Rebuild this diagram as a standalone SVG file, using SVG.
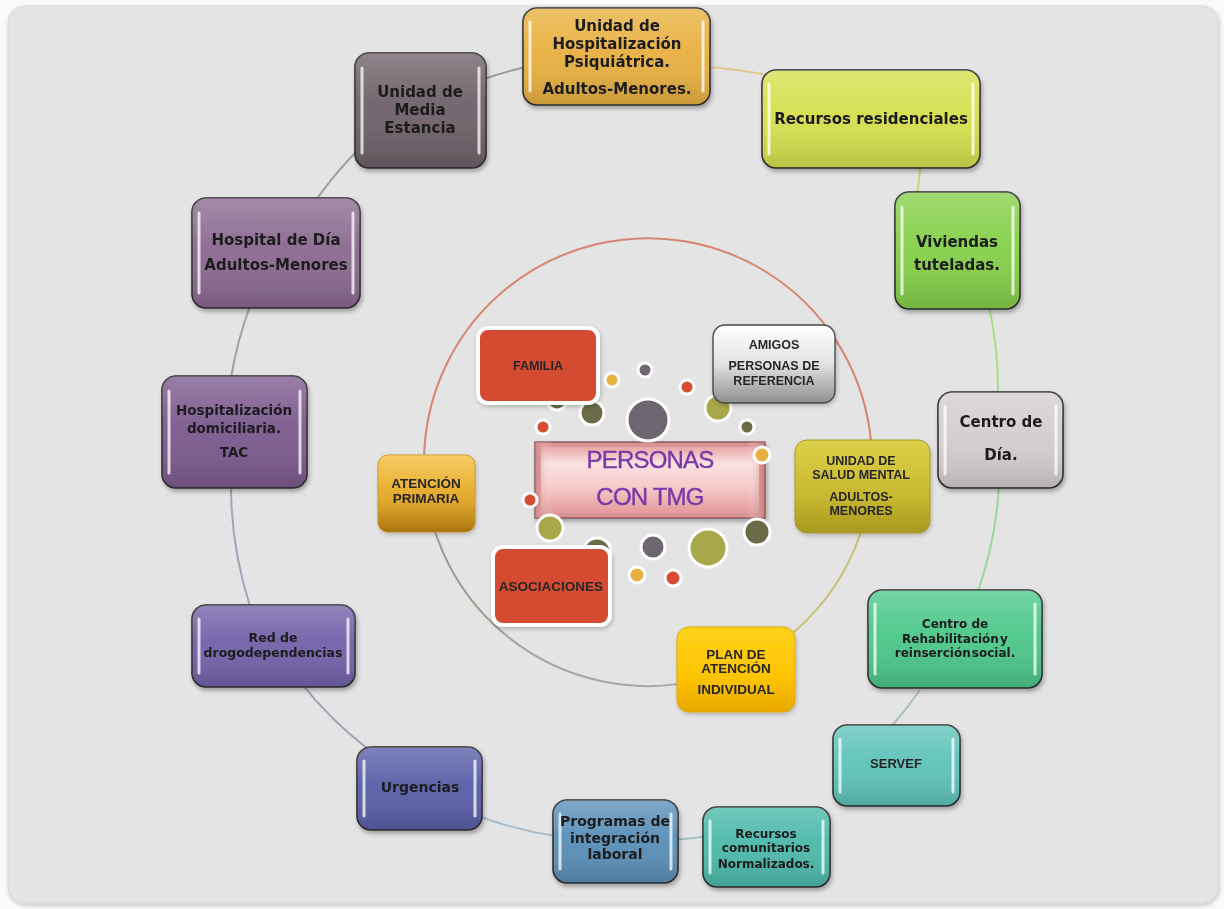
<svg xmlns="http://www.w3.org/2000/svg" width="1224" height="909" viewBox="0 0 1224 909">
  <defs>
    <style>
      .ot { font-family: "DejaVu Sans", "Liberation Sans", sans-serif; font-weight: bold; text-anchor: middle; fill: #1c1c1c; }
      .it { font-family: "Liberation Sans", Arial, sans-serif; font-weight: bold; text-anchor: middle; fill: #262626; }
      .box { stroke: #2e2e2e; stroke-width: 1.6; }
      .hl { stroke: #ffffff; stroke-opacity: 0.75; stroke-width: 3; stroke-linecap: round; }
      .arc { fill: none; stroke-width: 2; }
      .dot { stroke: #ffffff; stroke-width: 3; }
    </style>
    <linearGradient id="gloss" x1="0" y1="0" x2="0" y2="1">
      <stop offset="0" stop-color="#ffffff" stop-opacity="0.22"/>
      <stop offset="0.45" stop-color="#ffffff" stop-opacity="0.04"/>
      <stop offset="1" stop-color="#000000" stop-opacity="0.14"/>
    </linearGradient>
    <linearGradient id="gGray" x1="0" y1="0" x2="0" y2="1">
      <stop offset="0" stop-color="#ffffff"/>
      <stop offset="0.5" stop-color="#e2e2e2"/>
      <stop offset="1" stop-color="#8e8e8e"/>
    </linearGradient>
    <linearGradient id="gGold" x1="0" y1="0" x2="0" y2="1">
      <stop offset="0" stop-color="#f4be3a"/>
      <stop offset="0.6" stop-color="#e2a624"/>
      <stop offset="1" stop-color="#c4870e"/>
    </linearGradient>
    <linearGradient id="gOlive" x1="0" y1="0" x2="0" y2="1">
      <stop offset="0" stop-color="#ddd048"/>
      <stop offset="0.6" stop-color="#c8b830"/>
      <stop offset="1" stop-color="#a89820"/>
    </linearGradient>
    <linearGradient id="gYellow" x1="0" y1="0" x2="0" y2="1">
      <stop offset="0" stop-color="#ffd21a"/>
      <stop offset="0.6" stop-color="#fcc400"/>
      <stop offset="1" stop-color="#eaa800"/>
    </linearGradient>
    <linearGradient id="gPinkV" x1="0" y1="0" x2="0" y2="1">
      <stop offset="0" stop-color="#e9a6a6"/>
      <stop offset="0.25" stop-color="#fbe2e2"/>
      <stop offset="0.6" stop-color="#f6caca"/>
      <stop offset="1" stop-color="#e49a9a"/>
    </linearGradient>
    <linearGradient id="gPinkH" x1="0" y1="0" x2="1" y2="0">
      <stop offset="0" stop-color="#c97a7a" stop-opacity="0.55"/>
      <stop offset="0.08" stop-color="#ffffff" stop-opacity="0"/>
      <stop offset="0.92" stop-color="#ffffff" stop-opacity="0"/>
      <stop offset="1" stop-color="#b96a6a" stop-opacity="0.6"/>
    </linearGradient>
    <filter id="shadow" x="-20%" y="-20%" width="140%" height="150%">
      <feDropShadow dx="1.5" dy="3" stdDeviation="2.2" flood-color="#000000" flood-opacity="0.3"/>
    </filter>
    <filter id="softShadow" x="-20%" y="-20%" width="140%" height="150%">
      <feDropShadow dx="1" dy="2" stdDeviation="2" flood-color="#000000" flood-opacity="0.22"/>
    </filter>
  </defs>

  <!-- page -->
  <rect x="0" y="0" width="1224" height="909" fill="#fafafa"/>
  <rect x="8" y="6" width="1210" height="897" rx="16" fill="#e4e4e4" stroke="#d8d8d8" stroke-width="1" filter="url(#softShadow)"/>

  <!-- connectors -->
  <g id="connectors">
    <!-- outer ring -->
    <path class="arc" stroke="#9c9c9c" d="M484 79 A390 390 0 0 1 526 67"/>
    <path class="arc" stroke="#e2c98a" d="M706 67 A390 390 0 0 1 766 75"/>
    <path class="arc" stroke="#c8d470" d="M921 164 L917 195"/>
    <path class="arc" stroke="#a8dc88" d="M989 306 A390 390 0 0 1 998 394"/>
    <path class="arc" stroke="#98d8a0" d="M999 486 A390 390 0 0 1 977 594"/>
    <path class="arc" stroke="#a8c0b8" d="M920 690 A390 390 0 0 1 890 728"/>
    <path class="arc" stroke="#a0c4c4" d="M708 836 A390 390 0 0 1 674 840"/>
    <path class="arc" stroke="#a8bccc" d="M556 836 A390 390 0 0 1 478 816"/>
    <path class="arc" stroke="#a0a0b4" d="M368 749 A390 390 0 0 1 301 683"/>
    <path class="arc" stroke="#a8a0b8" d="M250 606 A390 390 0 0 1 231 486"/>
    <path class="arc" stroke="#a0a0a8" d="M231 378 A390 390 0 0 1 250 306"/>
    <path class="arc" stroke="#a0a0a0" d="M316 200 A390 390 0 0 1 358 150"/>
    <!-- inner ring -->
    <path class="arc" stroke="#d8846e" d="M424.3 450.3 A224 224 0 1 1 864.4 520"/>
    <path class="arc" stroke="#c9c172" d="M864.4 520 A224 224 0 0 1 706 678.4"/>
    <path class="arc" stroke="#a8a8a0" d="M706 678.4 A224 224 0 0 1 504 633.6"/>
    <path class="arc" stroke="#9c9c8c" d="M504 633.6 A224 224 0 0 1 424.3 450.3"/>
  </g>

  <!-- centre -->
  <g id="personas-tmg" filter="url(#shadow)">
    <rect x="535" y="442" width="230" height="76" fill="#d89494" stroke="#7a4444" stroke-width="1.2"/>
    <rect x="541" y="447" width="218" height="66" fill="url(#gPinkV)"/>
    <rect x="535" y="442" width="230" height="76" fill="url(#gPinkH)"/>
    <text x="650" y="468" font-family="Liberation Sans, Arial, sans-serif" font-size="24" letter-spacing="-0.8" text-anchor="middle" fill="#7a38a8" stroke="#7a38a8" stroke-width="0.4">PERSONAS</text>
    <text x="650" y="505" font-family="Liberation Sans, Arial, sans-serif" font-size="24" letter-spacing="-0.8" text-anchor="middle" fill="#7a38a8" stroke="#7a38a8" stroke-width="0.4">CON TMG</text>
  </g>

  <!-- decorative dots round the centre -->
  <g id="dots">
    <circle class="dot" cx="645" cy="370" r="7" fill="#6e6670"/>
    <circle class="dot" cx="612" cy="380" r="7" fill="#e8b040"/>
    <circle class="dot" cx="687" cy="387" r="7" fill="#d94a33"/>
    <circle class="dot" cx="557" cy="400" r="10" fill="#6b6b48"/>
    <circle class="dot" cx="592" cy="413" r="12" fill="#6b6b48"/>
    <circle class="dot" cx="648" cy="420" r="21" fill="#6e6670"/>
    <circle class="dot" cx="718" cy="408" r="13" fill="#a8a84a"/>
    <circle class="dot" cx="747" cy="427" r="7" fill="#6b6b48"/>
    <circle class="dot" cx="543" cy="427" r="7" fill="#d94a33"/>
    <circle class="dot" cx="762" cy="455" r="8" fill="#e8b040"/>
    <circle class="dot" cx="530" cy="500" r="7" fill="#d94a33"/>
    <circle class="dot" cx="550" cy="528" r="13" fill="#a8a84a"/>
    <circle class="dot" cx="757" cy="532" r="13" fill="#6b6b48"/>
    <circle class="dot" cx="597" cy="552" r="14" fill="#6b6b48"/>
    <circle class="dot" cx="653" cy="547" r="12" fill="#6e6670"/>
    <circle class="dot" cx="708" cy="548" r="19" fill="#a8a84a"/>
    <circle class="dot" cx="637" cy="575" r="8" fill="#e8b040"/>
    <circle class="dot" cx="673" cy="578" r="8" fill="#d94a33"/>
  </g>

  <!-- inner ring nodes -->
  <g id="familia" filter="url(#softShadow)">
    <rect x="478" y="328" width="120" height="75" rx="10" fill="#d44b33" stroke="#ffffff" stroke-width="4"/>
    <text class="it" x="538" y="370" font-size="12.5">FAMILIA</text>
  </g>
  <g id="amigos" filter="url(#softShadow)">
    <rect x="713" y="325" width="122" height="78" rx="12" fill="url(#gGray)" stroke="#4a4a4a" stroke-width="1.4"/>
    <text class="it" x="774" y="349" font-size="12.5">AMIGOS</text>
    <text class="it" x="774" y="370" font-size="12.5">PERSONAS DE</text>
    <text class="it" x="774" y="385" font-size="12.5">REFERENCIA</text>
  </g>
  <g id="atencion-primaria" filter="url(#softShadow)">
    <rect x="378" y="455" width="97" height="77" rx="10" fill="url(#gGold)" stroke="#c99220" stroke-width="1"/>
    <rect x="378" y="455" width="97" height="77" rx="10" fill="url(#gloss)"/>
    <text class="it" x="426" y="488" font-size="13.5">ATENCIÓN</text>
    <text class="it" x="426" y="503" font-size="13.5">PRIMARIA</text>
  </g>
  <g id="salud-mental" filter="url(#softShadow)">
    <rect x="795" y="440" width="135" height="93" rx="12" fill="url(#gOlive)" stroke="#a89a28" stroke-width="1"/>
    <text class="it" x="861" y="465" font-size="12.5">UNIDAD DE</text>
    <text class="it" x="861" y="479" font-size="12.5">SALUD MENTAL</text>
    <text class="it" x="861" y="501" font-size="12.5">ADULTOS-</text>
    <text class="it" x="861" y="515" font-size="12.5">MENORES</text>
  </g>
  <g id="asociaciones" filter="url(#softShadow)">
    <rect x="493" y="547" width="117" height="78" rx="10" fill="#d44b33" stroke="#ffffff" stroke-width="4"/>
    <text class="it" x="551" y="591" font-size="13.5">ASOCIACIONES</text>
  </g>
  <g id="plan-atencion" filter="url(#softShadow)">
    <rect x="677" y="627" width="118" height="85" rx="12" fill="url(#gYellow)" stroke="#e0a800" stroke-width="1"/>
    <text class="it" x="736" y="659" font-size="13.5">PLAN DE</text>
    <text class="it" x="736" y="673" font-size="13.5">ATENCIÓN</text>
    <text class="it" x="736" y="694" font-size="13.5">INDIVIDUAL</text>
  </g>

  <!-- outer ring nodes -->
  <g id="hospitalizacion-psiquiatrica" filter="url(#shadow)">
    <rect class="box" x="523" y="8" width="187" height="97" rx="14" fill="#e8b040"/>
    <rect x="523" y="8" width="187" height="97" rx="14" fill="url(#gloss)"/>
    <line class="hl" x1="530" y1="22" x2="530" y2="91"/>
    <line class="hl" x1="703" y1="22" x2="703" y2="91"/>
    <text class="ot" x="617" y="31" font-size="15">Unidad de</text>
    <text class="ot" x="617" y="49" font-size="15">Hospitalización</text>
    <text class="ot" x="617" y="67" font-size="15">Psiquiátrica.</text>
    <text class="ot" x="617" y="94" font-size="15">Adultos-Menores.</text>
  </g>
  <g id="media-estancia" filter="url(#shadow)">
    <rect class="box" x="355" y="53" width="131" height="115" rx="14" fill="#6f6169"/>
    <rect x="355" y="53" width="131" height="115" rx="14" fill="url(#gloss)"/>
    <line class="hl" x1="362" y1="68" x2="362" y2="153"/>
    <line class="hl" x1="479" y1="68" x2="479" y2="153"/>
    <text class="ot" x="420" y="97" font-size="15">Unidad de</text>
    <text class="ot" x="420" y="115" font-size="15">Media</text>
    <text class="ot" x="420" y="133" font-size="15">Estancia</text>
  </g>
  <g id="recursos-residenciales" filter="url(#shadow)">
    <rect class="box" x="762" y="70" width="218" height="98" rx="14" fill="#d5e04e"/>
    <rect x="762" y="70" width="218" height="98" rx="14" fill="url(#gloss)"/>
    <line class="hl" x1="769" y1="84" x2="769" y2="154"/>
    <line class="hl" x1="973" y1="84" x2="973" y2="154"/>
    <text class="ot" x="871" y="124" font-size="15">Recursos residenciales</text>
  </g>
  <g id="viviendas-tuteladas" filter="url(#shadow)">
    <rect class="box" x="895" y="192" width="125" height="117" rx="14" fill="#86d04a"/>
    <rect x="895" y="192" width="125" height="117" rx="14" fill="url(#gloss)"/>
    <line class="hl" x1="902" y1="207" x2="902" y2="294"/>
    <line class="hl" x1="1013" y1="207" x2="1013" y2="294"/>
    <text class="ot" x="957" y="247" font-size="15">Viviendas</text>
    <text class="ot" x="957" y="270" font-size="15">tuteladas.</text>
  </g>
  <g id="centro-dia" filter="url(#shadow)">
    <rect class="box" x="938" y="392" width="125" height="96" rx="14" fill="#d3cdd2"/>
    <rect x="938" y="392" width="125" height="96" rx="14" fill="url(#gloss)"/>
    <line class="hl" x1="945" y1="406" x2="945" y2="474"/>
    <line class="hl" x1="1056" y1="406" x2="1056" y2="474"/>
    <text class="ot" x="1001" y="427" font-size="15">Centro de</text>
    <text class="ot" x="1001" y="460" font-size="15">Día.</text>
  </g>
  <g id="centro-rehabilitacion" filter="url(#shadow)">
    <rect class="box" x="868" y="590" width="174" height="98" rx="14" fill="#4cc88a"/>
    <rect x="868" y="590" width="174" height="98" rx="14" fill="url(#gloss)"/>
    <line class="hl" x1="875" y1="604" x2="875" y2="674"/>
    <line class="hl" x1="1035" y1="604" x2="1035" y2="674"/>
    <text class="ot" x="955" y="628" font-size="12">Centro de</text>
    <text class="ot" x="955" y="643" font-size="12" word-spacing="-3">Rehabilitación y</text>
    <text class="ot" x="955" y="657" font-size="12" word-spacing="-3">reinserción social.</text>
  </g>
  <g id="servef" filter="url(#shadow)">
    <rect class="box" x="833" y="725" width="127" height="81" rx="14" fill="#5ec3b9"/>
    <rect x="833" y="725" width="127" height="81" rx="14" fill="url(#gloss)"/>
    <line class="hl" x1="840" y1="739" x2="840" y2="792"/>
    <line class="hl" x1="953" y1="739" x2="953" y2="792"/>
    <text class="it" x="896" y="768" font-size="13" fill="#1c2a2a">SERVEF</text>
  </g>
  <g id="recursos-comunitarios" filter="url(#shadow)">
    <rect class="box" x="703" y="807" width="127" height="80" rx="14" fill="#4bb9aa"/>
    <rect x="703" y="807" width="127" height="80" rx="14" fill="url(#gloss)"/>
    <line class="hl" x1="710" y1="821" x2="710" y2="873"/>
    <line class="hl" x1="823" y1="821" x2="823" y2="873"/>
    <text class="ot" x="766" y="838" font-size="12">Recursos</text>
    <text class="ot" x="766" y="852" font-size="12">comunitarios</text>
    <text class="ot" x="766" y="868" font-size="12">Normalizados.</text>
  </g>
  <g id="programas-integracion" filter="url(#shadow)">
    <rect class="box" x="553" y="800" width="125" height="83" rx="14" fill="#5a8fb8"/>
    <rect x="553" y="800" width="125" height="83" rx="14" fill="url(#gloss)"/>
    <line class="hl" x1="560" y1="814" x2="560" y2="869"/>
    <line class="hl" x1="671" y1="814" x2="671" y2="869"/>
    <text class="ot" x="615" y="826" font-size="14" fill="#0e1a28">Programas de</text>
    <text class="ot" x="615" y="843" font-size="14" fill="#0e1a28">integración</text>
    <text class="ot" x="615" y="859" font-size="14" fill="#0e1a28">laboral</text>
  </g>
  <g id="urgencias" filter="url(#shadow)">
    <rect class="box" x="357" y="747" width="125" height="83" rx="14" fill="#5a5fa8"/>
    <rect x="357" y="747" width="125" height="83" rx="14" fill="url(#gloss)"/>
    <line class="hl" x1="364" y1="761" x2="364" y2="816"/>
    <line class="hl" x1="475" y1="761" x2="475" y2="816"/>
    <text class="ot" x="420" y="792" font-size="14" fill="#161a3a">Urgencias</text>
  </g>
  <g id="red-drogodependencias" filter="url(#shadow)">
    <rect class="box" x="192" y="605" width="163" height="82" rx="14" fill="#7262a9"/>
    <rect x="192" y="605" width="163" height="82" rx="14" fill="url(#gloss)"/>
    <line class="hl" x1="199" y1="619" x2="199" y2="673"/>
    <line class="hl" x1="348" y1="619" x2="348" y2="673"/>
    <text class="ot" x="273" y="642" font-size="12.5" fill="#16142e">Red de</text>
    <text class="ot" x="273" y="657" font-size="12.5" fill="#16142e">drogodependencias</text>
  </g>
  <g id="hospitalizacion-domiciliaria" filter="url(#shadow)">
    <rect class="box" x="162" y="376" width="145" height="112" rx="14" fill="#7c5a8e"/>
    <rect x="162" y="376" width="145" height="112" rx="14" fill="url(#gloss)"/>
    <line class="hl" x1="169" y1="391" x2="169" y2="473"/>
    <line class="hl" x1="300" y1="391" x2="300" y2="473"/>
    <text class="ot" x="234" y="415" font-size="13.5">Hospitalización</text>
    <text class="ot" x="234" y="433" font-size="13.5">domiciliaria.</text>
    <text class="ot" x="234" y="457" font-size="13.5">TAC</text>
  </g>
  <g id="hospital-dia" filter="url(#shadow)">
    <rect class="box" x="192" y="198" width="168" height="110" rx="14" fill="#8b6a90"/>
    <rect x="192" y="198" width="168" height="110" rx="14" fill="url(#gloss)"/>
    <line class="hl" x1="199" y1="213" x2="199" y2="293"/>
    <line class="hl" x1="353" y1="213" x2="353" y2="293"/>
    <text class="ot" x="276" y="245" font-size="15">Hospital de Día</text>
    <text class="ot" x="276" y="270" font-size="15">Adultos-Menores</text>
  </g>
</svg>
